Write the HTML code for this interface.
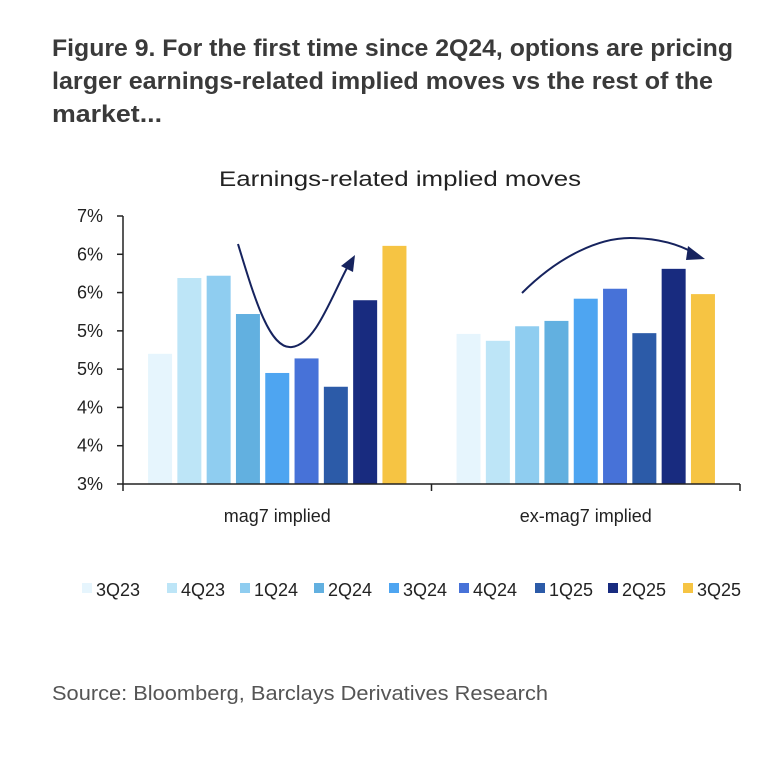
<!DOCTYPE html>
<html><head><meta charset="utf-8"><style>
html,body{margin:0;padding:0;background:#fff;}
svg{display:block;font-family:"Liberation Sans",sans-serif;}
</style></head><body>
<svg id="c" width="774" height="758" viewBox="0 0 774 758">
<text x="52" y="56" font-size="24" font-weight="bold" fill="#3a3a3a" textLength="681" lengthAdjust="spacingAndGlyphs">Figure 9. For the first time since 2Q24, options are pricing</text>
<text x="52" y="89" font-size="24" font-weight="bold" fill="#3a3a3a" textLength="661" lengthAdjust="spacingAndGlyphs">larger earnings-related implied moves vs the rest of the</text>
<text x="52" y="122" font-size="24" font-weight="bold" fill="#3a3a3a" textLength="110" lengthAdjust="spacingAndGlyphs">market...</text>
<text x="400" y="186" font-size="21" fill="#222" text-anchor="middle" textLength="362" lengthAdjust="spacingAndGlyphs">Earnings-related implied moves</text>
<g id="plot"></g>
<path d="M238,244 C255,300 270,350 292,347 C315,344 330,300 348,266" fill="none" stroke="#16235e" stroke-width="2"/>
<polygon points="355,255 341,266 353,272" fill="#16235e"/>
<path d="M522,293 C560,255 600,238 630,238 C660,238 680,245 694,253" fill="none" stroke="#16235e" stroke-width="2"/>
<polygon points="705,259 688,246 686,260" fill="#16235e"/>
<g id="legend"></g>
<text x="52" y="700" font-size="20" fill="#555" textLength="496" lengthAdjust="spacingAndGlyphs">Source: Bloomberg, Barclays Derivatives Research</text>
</svg>
<script>
const categories = ["mag7 implied", "ex-mag7 implied"];
const seriesNames = ["3Q23","4Q23","1Q24","2Q24","3Q24","4Q24","1Q25","2Q25","3Q25"];
const mag7Values = [4.70,5.69,5.72,5.22,4.45,4.64,4.27,5.40,6.11];
const exMag7Values = [4.96,4.87,5.06,5.13,5.42,5.55,4.97,5.81,5.48];
const yTicks = [3,3.5,4,4.5,5,5.5,6,6.5];
const yTickLabels = ["3%","4%","4%","5%","5%","6%","6%","7%"];
const colors = ["#e6f5fd","#bde5f7","#8fcdf0","#62b0e0","#4ea5f1","#4772d8","#2c5ba8","#182b7f","#f6c443"];
const NS = "http://www.w3.org/2000/svg";
const X0 = 123, X1 = 740, Y0 = 484, Y7 = 216, yMin = 3, yMax = 6.5;
function y(v){ return Y0 - (v - yMin) / (yMax - yMin) * (Y0 - Y7); }
const groupW = (X1 - X0) / categories.length;
const barW = 24, barStep = 29.3;
function bx(g, i){ return X0 + g*groupW + groupW/2 - (seriesNames.length*barStep - (barStep-barW))/2 + i*barStep; }
function mk(tag, attrs, parent){ const e=document.createElementNS(NS,tag); for(const k in attrs) e.setAttribute(k,attrs[k]); parent.appendChild(e); return e; }
const plot = document.getElementById("plot");
const groups = [mag7Values, exMag7Values];
groups.forEach((vals,g)=>{
  vals.forEach((v,i)=>{
    const r = mk("rect",{x:bx(g,i),y:y(v),width:barW,height:Y0-y(v),fill:colors[i]},plot);
    
    
  });
  const t = mk("text",{x:X0+g*groupW+groupW/2,y:522,"font-size":18,fill:"#222","text-anchor":"middle"},plot);
  t.textContent = categories[g];
  
  
});
const ya = mk("line",{x1:X0,y1:Y7,x2:X0,y2:Y0,stroke:"#222","stroke-width":1.5},plot);


const xa = mk("line",{x1:X0,y1:Y0,x2:X1,y2:Y0,stroke:"#222","stroke-width":1.5},plot);


[0,1,2].forEach(k=>{
  const xt = X0 + k*groupW;
  const l = mk("line",{x1:xt,y1:Y0,x2:xt,y2:Y0+7,stroke:"#222","stroke-width":1.5},plot);
  
  
});
yTicks.forEach((v,i)=>{
  const l = mk("line",{x1:X0-6,y1:y(v),x2:X0,y2:y(v),stroke:"#222","stroke-width":1.5},plot);
  
  
  const t = mk("text",{x:103,y:y(v)+6,"font-size":18,fill:"#222","text-anchor":"end"},plot);
  t.textContent = yTickLabels[i];
  
  
});
const legend = document.getElementById("legend");
const legX = [82,167,240,314,389,459,535,608,683];
seriesNames.forEach((s,i)=>{
  const r = mk("rect",{x:legX[i],y:583,width:10,height:10,fill:colors[i]},legend);
  
  
  const t = mk("text",{x:legX[i]+14,y:596,"font-size":18,fill:"#222"},legend);
  t.textContent = s;
  
  
});
</script>
</body></html>
